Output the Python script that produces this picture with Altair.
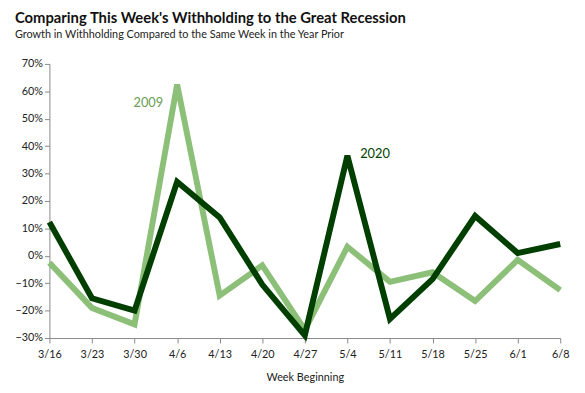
import altair as alt
import pandas as pd

weeks = ["3/16", "3/23", "3/30", "4/6", "4/13", "4/20", "4/27", "5/4", "5/11", "5/18", "5/25", "6/1", "6/8"]
y2009 = [-0.025, -0.19, -0.25, 0.625, -0.145, -0.035, -0.27, 0.033, -0.095, -0.06, -0.165, -0.015, -0.125]
y2020 = [0.123, -0.155, -0.20, 0.27, 0.14, -0.105, -0.29, 0.365, -0.23, -0.085, 0.145, 0.01, 0.043]
y_ticks = [-0.3, -0.2, -0.1, 0.0, 0.1, 0.2, 0.3, 0.4, 0.5, 0.6, 0.7]

series = ["2009", "2020"]
colors = ["#8cbf78", "#003f00"]
label_colors = ["#6a9e55", "#003f00"]
label_weeks = ["3/30", "5/4"]
label_values = [0.556, 0.37]

rows = []
for i, w in enumerate(weeks):
    rows.append({"week": w, "series": "2009", "value": y2009[i]})
    rows.append({"week": w, "series": "2020", "value": y2020[i]})
df = pd.DataFrame(rows)

lab = pd.DataFrame({"week": label_weeks, "value": label_values, "text": series, "series": series})

FONT = "Lato"

x = alt.X("week:N", sort=weeks, scale=alt.Scale(type="point", padding=0),
          axis=alt.Axis(title="Week Beginning", labelAngle=0, labelPadding=6,
                        tickColor="#888888", domainColor="#888888", tickSize=5,
                        labelFont=FONT, labelFontSize=11, labelColor="#222222",
                        titleFont=FONT, titleFontSize=11, titleFontWeight="normal",
                        titleColor="#222222", titlePadding=12))
y = alt.Y("value:Q", scale=alt.Scale(domain=[-0.3, 0.7], nice=False),
          axis=alt.Axis(format=".0%", values=y_ticks,
                        labelOverlap=False, grid=False, tickColor="#888888", domainColor="#888888",
                        tickSize=5, labelFont=FONT, labelFontSize=11, labelColor="#222222", title=None))

lines = alt.Chart(df).mark_line(strokeWidth=6, strokeJoin="miter").encode(
    x=x, y=y,
    color=alt.Color("series:N", scale=alt.Scale(domain=series, range=colors), legend=None),
    detail="series:N",
)

texts_a = alt.Chart(lab[lab.series == "2009"]).mark_text(font=FONT, fontSize=13, fontWeight="normal", dx=14, color=label_colors[0]).encode(
    x=x, y=y, text="text:N")
texts_b = alt.Chart(lab[lab.series == "2020"]).mark_text(font=FONT, fontSize=13, fontWeight="normal", dx=28, color=label_colors[1]).encode(
    x=x, y=y, text="text:N")

chart = alt.layer(lines, texts_a, texts_b).properties(
    width=518, height=278,
    title=alt.TitleParams(
        "Comparing This Week's Withholding to the Great Recession",
        subtitle="Growth in Withholding Compared to the Same Week in the Year Prior",
        anchor="start", frame="bounds", font=FONT, fontSize=15, fontWeight="bold",
        color="#111111", subtitleFont=FONT, subtitleFontSize=11, subtitleColor="#222222",
        offset=18, subtitlePadding=3,
    ),
    padding={"left": 7, "top": 1, "right": 5, "bottom": 5},
).configure_view(stroke=None).configure_axis(labelOverlap=False)

chart.save("out.html", embed_options={"renderer": "svg", "actions": False})
